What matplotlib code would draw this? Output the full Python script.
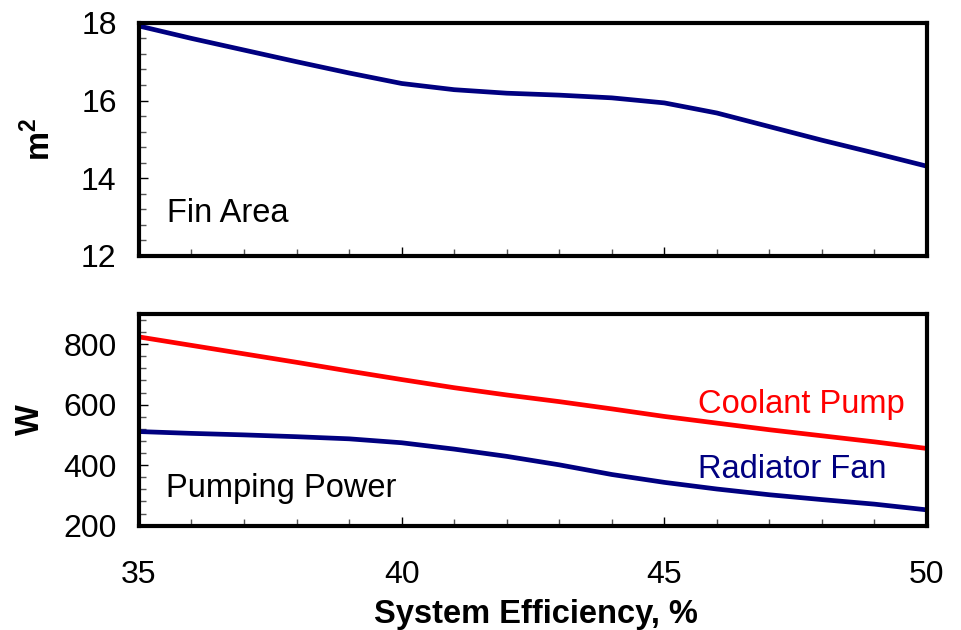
import matplotlib
matplotlib.use('Agg')
import matplotlib.pyplot as plt
from matplotlib.ticker import MultipleLocator

plt.rcParams['font.family'] = ['Liberation Sans', 'DejaVu Sans']

# Data
efficiency = [35, 36, 37, 38, 39, 40, 41, 42, 43, 44, 45, 46, 47, 48, 49, 50]
fin_area = [17.92, 17.6, 17.3, 17.0, 16.71, 16.44, 16.28, 16.19, 16.14, 16.07,
            15.94, 15.68, 15.33, 14.98, 14.65, 14.31]
coolant_pump = [824, 796, 768, 740, 711, 683, 656, 632, 610, 586,
                561, 539, 517, 497, 477, 455]
radiator_fan = [511, 505, 500, 494, 487, 474, 453, 429, 401, 369,
                343, 321, 302, 286, 271, 252]

x_ticks = [35, 40, 45, 50]
fin_ticks = [12, 14, 16, 18]
power_ticks = [200, 400, 600, 800]

navy = '#000080'
red = '#FF0000'
fs = 23.5
tick_fs = 23

fig = plt.figure(figsize=(9.61, 6.3), dpi=100)
ax1 = fig.add_axes([0.1446, 0.5937, 0.820, 0.370])
ax2 = fig.add_axes([0.1446, 0.1657, 0.820, 0.336])

# Top panel: fin area
ax1.plot(efficiency, fin_area, color=navy, lw=3.4, solid_capstyle='butt')
ax1.set_xlim(35, 50)
ax1.set_ylim(12, 18)
ax1.set_yticks(fin_ticks)
ax1.yaxis.set_minor_locator(MultipleLocator(0.4))
ax1.set_xticks(x_ticks)
ax1.set_xticklabels([])
ax1.set_ylabel('m$^\\mathregular{2}$', fontsize=fs, fontweight='bold')
ax1.yaxis.set_label_coords(-0.104, 0.5)
ax1.text(35.53, 12.87, 'Fin Area', fontsize=fs, va='baseline', ha='left')

# Bottom panel: pumping power
ax2.plot(efficiency, coolant_pump, color=red, lw=3.4, solid_capstyle='butt')
ax2.plot(efficiency, radiator_fan, color=navy, lw=3.4, solid_capstyle='butt')
ax2.set_xlim(35, 50)
ax2.set_ylim(200, 900)
ax2.set_yticks(power_ticks)
ax2.yaxis.set_minor_locator(MultipleLocator(40))
ax2.set_xticks(x_ticks)
ax2.set_ylabel('W', fontsize=fs, fontweight='bold')
ax2.yaxis.set_label_coords(-0.118, 0.5)
ax2.set_xlabel('System Efficiency, %', fontsize=fs, fontweight='bold')
ax2.xaxis.set_label_coords(0.504, -0.345)
ax2.text(35.52, 296, 'Pumping Power', fontsize=fs, va='baseline', ha='left')
ax2.text(45.65, 574, 'Coolant Pump', fontsize=fs, va='baseline', ha='left', color=red)
ax2.text(45.65, 357, 'Radiator Fan', fontsize=fs, va='baseline', ha='left', color=navy)

for ax in (ax1, ax2):
    for sp in ax.spines.values():
        sp.set_linewidth(3)
    ax.xaxis.set_minor_locator(MultipleLocator(1))
    ax.tick_params(axis='both', which='both', direction='in', top=False, right=False)
    ax.tick_params(axis='both', which='major', length=6.5, width=1, labelsize=tick_fs)
    ax.tick_params(axis='both', which='minor', length=5, width=1, color='#555555')
    ax.tick_params(axis='y', which='major', pad=16)

ax2.tick_params(axis='x', which='major', pad=25)

fig.savefig('out.png', dpi=100)
